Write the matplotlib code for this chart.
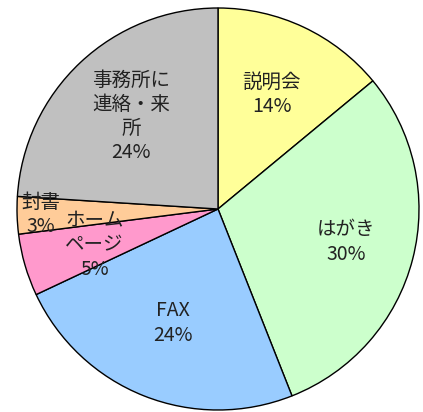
import numpy as np
import matplotlib.pyplot as plt

plt.rcParams['font.family'] = ['Noto Sans CJK JP', 'DejaVu Sans']

# slices, clockwise from 12 o'clock
labels = ['説明会', 'はがき', 'FAX', 'ホーム\nページ', '封書', '事務所に\n連絡・来\n所']
shares = [14, 30, 24, 5, 3, 24]
colors = ['#FFFF99', '#CCFFCC', '#99CCFF', '#FF99CC', '#FFCC99', '#C0C0C0']
label_r = [0.63, 0.66, 0.61, 0.64, 0.88, 0.63]


def main():
    fig = plt.figure(figsize=(4.23, 4.12), dpi=100)
    ax = fig.add_axes([0, 0, 1, 1])

    wedges, _ = ax.pie(shares, colors=colors, startangle=90, counterclock=False,
                       radius=1.0, wedgeprops=dict(edgecolor='black', linewidth=1.0))

    # label each wedge at its middle angle
    for w, lab, val, r in zip(wedges, labels, shares, label_r):
        ang = np.deg2rad((w.theta1 + w.theta2) / 2)
        ax.text(r * np.cos(ang), r * np.sin(ang), lab + '\n' + str(val) + '%',
                ha='center', va='center', fontsize=14, linespacing=1.2,
                color='#222222')

    ax.set_xlim(-218 / 201, 205 / 201)
    ax.set_ylim(-203 / 201, 209 / 201)
    ax.set_aspect('equal')
    ax.axis('off')

    fig.savefig('out.png', dpi=100)


if __name__ == '__main__':
    main()
